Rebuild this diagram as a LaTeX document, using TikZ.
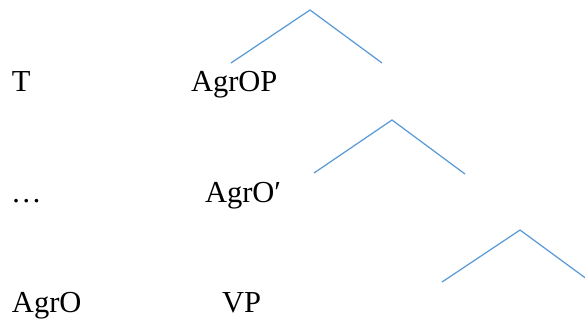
\documentclass[tikz,border=0pt]{standalone}
\usepackage{fontspec}
\setmainfont{Liberation Serif}
\definecolor{wedge}{HTML}{5B9BD5}
\begin{document}
\begin{tikzpicture}[x=1pt,y=-1pt,
  lbl/.style={anchor=base west,inner sep=0pt,outer sep=0pt,font=\fontsize{30.5}{36}\selectfont},
  branch/.style={draw=wedge,line width=1.25pt}]
\useasboundingbox (0,0) rectangle (585,320);
\node[lbl] (t) at (12,92) {T};
\node[lbl] (agrop) at (191,92) {AgrOP};
\node[lbl] (dots) at (11,203) {\dots};
\node[lbl] (agrobar) at (205,203) {AgrO′};
\node[lbl] (agro) at (12,312) {AgrO};
\node[lbl] (vp) at (222,312) {VP};
\coordinate (a1) at (310,10);
\coordinate (l1) at (231,63);
\coordinate (r1) at (382,63);
\coordinate (a2) at (392,120);
\coordinate (l2) at (314,173);
\coordinate (r2) at (465,174);
\coordinate (a3) at (520,230);
\coordinate (l3) at (442,282);
\coordinate (r3) at (595,285);
\draw[branch] (l1) -- (a1) -- (r1);
\draw[branch] (l2) -- (a2) -- (r2);
\draw[branch] (l3) -- (a3) -- (r3);
\end{tikzpicture}
\end{document}
